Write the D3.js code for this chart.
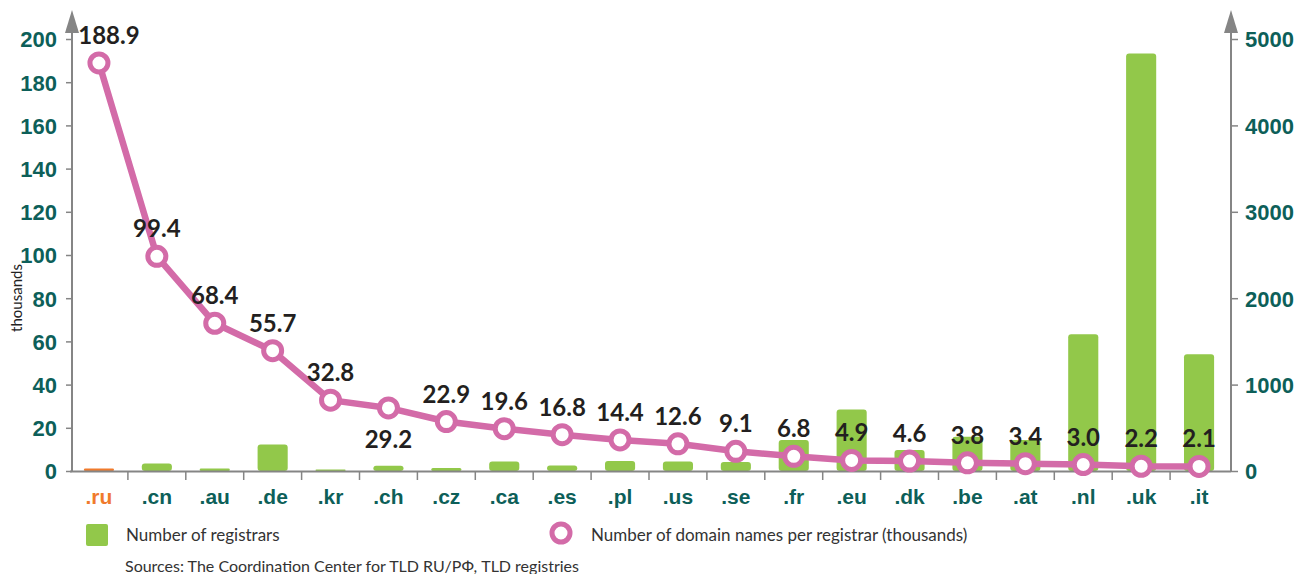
<!DOCTYPE html>
<html>
<head>
<meta charset="utf-8">
<script src="https://cdn.jsdelivr.net/npm/d3@7"></script>
<style>
  body { margin: 0; background: #fff; }
  svg { display: block; font-family: Lato, "Open Sans", sans-serif; }
</style>
</head>
<body>
<script>
// donnees
var zones = [".ru", ".cn", ".au", ".de", ".kr", ".ch", ".cz", ".ca", ".es", ".pl", ".us", ".se", ".fr", ".eu", ".dk", ".be", ".at", ".nl", ".uk", ".it"];
var registrars = [30, 87, 30, 307, 17, 62, 35, 110, 64, 116, 110, 104, 360, 713, 243, 396, 360, 1583, 4832, 1351];
var perRegistrar = [188.9, 99.4, 68.4, 55.7, 32.8, 29.2, 22.9, 19.6, 16.8, 14.4, 12.6, 9.1, 6.8, 4.9, 4.6, 3.8, 3.4, 3.0, 2.2, 2.1];
var leftTicks = [0, 20, 40, 60, 80, 100, 120, 140, 160, 180, 200];
var rightTicks = [0, 1000, 2000, 3000, 4000, 5000];

var w = 1308, h = 574;
var green = "#92c84a", pink = "#d36ba8", orange = "#f07a2c", teal = "#0d5f59", grey = "#858585";

var svg = d3.select("body").append("svg")
    .attr("width", w)
    .attr("height", h);

var x = d3.scaleBand()
    .domain(zones)
    .range([70, 1228])
    .paddingInner(0.48)
    .paddingOuter(0.24);

var yL = d3.scaleLinear().domain([0, 200]).range([471, 39]);
var yR = d3.scaleLinear().domain([0, 5000]).range([471, 39]);

// barres
svg.selectAll(".bar")
    .data(zones)
    .enter()
    .append("rect")
    .attr("x", function(d) { return x(d); })
    .attr("width", x.bandwidth())
    .attr("y", function(d, i) { return yR(registrars[i]); })
    .attr("height", function(d, i) { return yR(0) - yR(registrars[i]); })
    .attr("rx", function(d, i) { return Math.min(3, (yR(0) - yR(registrars[i])) / 2); })
    .style("fill", function(d, i) { return i == 0 ? orange : green; });

// axes
var axisL = svg.append("g")
    .attr("transform", "translate(72,0)")
    .call(d3.axisLeft(yL).tickValues(leftTicks).tickSize(6).tickPadding(9));
var axisR = svg.append("g")
    .attr("transform", "translate(1231,0)")
    .call(d3.axisRight(yR).tickValues(rightTicks).tickFormat(d3.format("d")).tickSize(7).tickPadding(7));

[axisL, axisR].forEach(function(a) {
    a.select(".domain").remove();
    a.selectAll("line").attr("stroke", grey).attr("stroke-width", 1.5);
    a.selectAll("text")
        .style("font-size", "22px")
        .style("font-weight", "bold")
        .style("fill", teal)
        .attr("dy", "0.36em");
});

// lignes des axes avec fleches
[72, 1231].forEach(function(ax) {
    svg.append("line")
        .attr("x1", ax).attr("x2", ax)
        .attr("y1", 472).attr("y2", 28)
        .attr("stroke", grey).attr("stroke-width", 2);
    svg.append("path")
        .attr("d", "M" + ax + ",10 L" + (ax - 7) + ",33 L" + (ax + 7) + ",33 Z")
        .style("fill", grey);
});

// axe du bas
var axisB = svg.append("g")
    .attr("transform", "translate(0,471.5)")
    .call(d3.axisBottom(x).tickSize(0).tickPadding(14));
axisB.select(".domain").remove();
axisB.selectAll("text")
    .style("font-size", "21px")
    .style("font-weight", "bold")
    .style("fill", function(d, i) { return i == 0 ? orange : teal; })
    .attr("dy", "0.9em");

svg.append("line")
    .attr("x1", 70).attr("x2", 1231)
    .attr("y1", 471.5).attr("y2", 471.5)
    .attr("stroke", grey).attr("stroke-width", 2);

svg.selectAll(".sep")
    .data(zones.slice(1))
    .enter()
    .append("line")
    .attr("x1", function(d) { return x(d) - x.step() * x.paddingInner() / 2; })
    .attr("x2", function(d) { return x(d) - x.step() * x.paddingInner() / 2; })
    .attr("y1", 471.5).attr("y2", 480)
    .attr("stroke", grey).attr("stroke-width", 1.5);

svg.append("text")
    .text("thousands")
    .attr("transform", "translate(22,298) rotate(-90)")
    .style("text-anchor", "middle")
    .style("font-size", "15px")
    .style("fill", "#222");

// courbe
var cx = function(d) { return x(d) + x.bandwidth() / 2; };
var line = d3.line()
    .x(function(d, i) { return cx(zones[i]); })
    .y(function(d) { return yL(d); });

svg.append("path")
    .datum(perRegistrar)
    .attr("d", line)
    .style("fill", "none")
    .attr("stroke", pink)
    .attr("stroke-width", 6.5)
    .attr("stroke-linejoin", "round");

svg.selectAll(".pt")
    .data(perRegistrar)
    .enter()
    .append("circle")
    .attr("cx", function(d, i) { return cx(zones[i]); })
    .attr("cy", function(d) { return yL(d); })
    .attr("r", 9)
    .style("fill", "#fff")
    .attr("stroke", pink)
    .attr("stroke-width", 5);

svg.selectAll(".val")
    .data(perRegistrar)
    .enter()
    .append("text")
    .text(function(d) { return d.toFixed(1); })
    .attr("x", function(d, i) { return cx(zones[i]) + (i == 0 ? 10 : 0); })
    .attr("y", function(d, i) { return yL(d) + (zones[i] == ".ch" ? 40 : -19); })
    .style("text-anchor", "middle")
    .style("font-size", "24px")
    .style("font-weight", "bold")
    .style("fill", "#231f20");

// legende
svg.append("rect")
    .attr("x", 86).attr("y", 524)
    .attr("width", 22).attr("height", 22)
    .attr("rx", 2)
    .style("fill", green);
svg.append("text")
    .text("Number of registrars")
    .attr("x", 126).attr("y", 541)
    .style("font-size", "17px")
    .style("fill", "#333");

svg.append("circle")
    .attr("cx", 561).attr("cy", 533)
    .attr("r", 9)
    .style("fill", "#fff")
    .attr("stroke", pink)
    .attr("stroke-width", 5);
svg.append("text")
    .text("Number of domain names per registrar (thousands)")
    .attr("x", 591).attr("y", 541)
    .style("font-size", "17px")
    .style("fill", "#333");

svg.append("text")
    .text("Sources: The Coordination Center for TLD RU/РФ, TLD registries")
    .attr("x", 125).attr("y", 572)
    .style("font-size", "16px")
    .style("fill", "#333");
</script>
</body>
</html>
